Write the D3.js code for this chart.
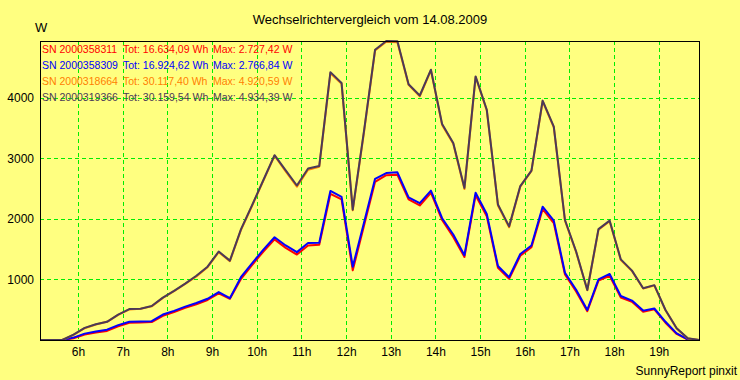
<!DOCTYPE html>
<html lang="de">
<head>
<meta charset="UTF-8">
<title>Wechselrichtervergleich</title>
<script src="https://d3js.org/d3.v7.min.js"></script>
<style>
    body { margin: 0; background: #ffff80; }
    svg { display: block; font-family: "Liberation Sans", Arial, sans-serif; }
</style>
</head>
<body>
<svg id="chart" width="740" height="380"></svg>
<script>
const times = ["05:09","05:24","05:39","05:54","06:09","06:24","06:39","06:54","07:09","07:24",
    "07:39","07:54","08:09","08:24","08:39","08:54","09:09","09:24","09:39","09:54",
    "10:09","10:24","10:39","10:54","11:09","11:24","11:39","11:54","12:09","12:24",
    "12:39","12:54","13:09","13:24","13:39","13:54","14:09","14:24","14:39","14:54",
    "15:09","15:24","15:39","15:54","16:09","16:24","16:39","16:54","17:09","17:24",
    "17:39","17:54","18:09","18:24","18:39","18:54","19:09","19:24","19:39","19:54"];

const sn311 = [0,0,0,30,90,125,150,225,285,290, 295,400,460,530,590,660,770,680,1010,1240,
    1460,1660,1520,1410,1560,1570,2410,2320,1150,1880, 2610,2720,2727,2320,2220,2430,1980,1700,1370,2390,
    2040,1190,1010,1390,1530,2160,1930,1080,800,475, 980,1060,700,630,465,505,285,100,5,0];
const sn309 = [0,0,0,40,105,140,170,245,300,305, 310,420,480,550,610,680,790,690,1040,1270,
    1490,1695,1560,1450,1600,1605,2460,2360,1210,1930, 2660,2755,2767,2355,2260,2465,2010,1740,1400,2430,
    2080,1220,1035,1420,1560,2200,1970,1110,830,495, 1000,1090,726,650,485,520,300,110,10,0];
const sn664 = [0,0,0,85,195,255,300,415,505,515, 555,695,805,925,1050,1200,1450,1300,1820,2220,
    2630,3040,2780,2530,2810,2860,4400,4230,2140,3420, 4780,4921,4915,4210,4020,4450,3550,3240,2490,4340,
    3790,2220,1860,2530,2790,3940,3510,1970,1450,820, 1820,1960,1320,1140,850,900,490,190,25,0];
const sn366 = [0,0,0,90,200,260,300,420,510,515, 560,700,810,930,1060,1210,1460,1310,1830,2230,
    2640,3050,2800,2550,2830,2870,4420,4240,2150,3440, 4790,4934,4930,4220,4035,4460,3565,3250,2510,4350,
    3800,2235,1875,2540,2795,3950,3520,1980,1460,825, 1830,1970,1330,1145,855,905,495,195,30,0];

const names = ["SN 2000358311", "SN 2000358309", "SN 2000318664", "SN 2000319366"];
const totals = ["Tot: 16.634,09 Wh", "Tot: 16.924,62 Wh", "Tot: 30.117,40 Wh", "Tot: 30.159,54 Wh"];
const maxima = ["Max: 2.727,42 W", "Max: 2.766,84 W", "Max: 4.920,59 W", "Max: 4.934,39 W"];
const colors = ["#ff0000", "#0000ff", "#ff8000", "#4b3a58"];
const seriesValues = [sn311, sn309, sn664, sn366];

const hourTicks = [6,7,8,9,10,11,12,13,14,15,16,17,18,19];
const powerTicks = [1000,2000,3000,4000];

const plotLeft = 40, plotRight = 699, plotTop = 41, plotBottom = 340;
const svg = d3.select("#chart");

const toHours = s => { const p = s.split(":"); return +p[0] + p[1] / 60; };
const hours = times.map(toHours);

const x = d3.scaleLinear().domain(d3.extent(hours)).range([plotLeft, plotRight]);
const y = d3.scaleLinear().domain([0, d3.max(sn366)]).range([plotBottom, plotTop]);

svg.append("rect").attr("width", 740).attr("height", 380).attr("fill", "#ffff80");

// grid
const grid = svg.append("g").attr("stroke", "#00ee00").attr("stroke-dasharray", "4,3")
    .attr("shape-rendering", "crispEdges");
grid.selectAll(".vx").data(hourTicks).join("line")
    .attr("x1", d => Math.round(x(d)) + 0.5).attr("x2", d => Math.round(x(d)) + 0.5)
    .attr("y1", plotTop).attr("y2", plotBottom);
grid.selectAll(".hy").data(powerTicks).join("line")
    .attr("x1", plotLeft).attr("x2", plotRight)
    .attr("y1", d => Math.round(y(d)) + 0.5).attr("y2", d => Math.round(y(d)) + 0.5);

// axes
const xAxis = svg.append("g").attr("transform", `translate(0,${plotBottom + 4})`)
    .call(d3.axisBottom(x).tickValues(hourTicks).tickSize(0).tickFormat(d => d + "h"));
xAxis.select(".domain").remove();
xAxis.selectAll("text").attr("font-size", 12).attr("fill", "#000").attr("font-family", "Liberation Sans, Arial, sans-serif");

const yAxis = svg.append("g").attr("transform", `translate(${plotLeft - 3},0)`)
    .call(d3.axisLeft(y).tickValues(powerTicks).tickSize(0).tickFormat(d => d));
yAxis.select(".domain").remove();
yAxis.selectAll("text").attr("font-size", 12).attr("fill", "#000").attr("font-family", "Liberation Sans, Arial, sans-serif");

// lines
const line = d3.line().x((d, i) => x(hours[i])).y(d => y(d));
seriesValues.forEach((vals, i) => {
    svg.append("path").datum(vals)
        .attr("fill", "none")
        .attr("stroke", colors[i])
        .attr("stroke-width", 2)
        .attr("stroke-linejoin", "round")
        .attr("d", line);
});

// frame
svg.append("rect").attr("x", plotLeft + 0.5).attr("y", plotTop + 0.5)
    .attr("width", plotRight - plotLeft).attr("height", plotBottom - plotTop)
    .attr("fill", "none").attr("stroke", "#000").attr("shape-rendering", "crispEdges");

// legend
const legend = svg.append("g").attr("font-size", 10.5);
names.forEach((n, i) => {
    const row = legend.append("g").attr("fill", colors[i]);
    const ly = 53 + i * 16;
    row.append("text").attr("x", 42).attr("y", ly).text(n);
    row.append("text").attr("x", 123).attr("y", ly).text(totals[i]);
    row.append("text").attr("x", 213).attr("y", ly).text(maxima[i]);
});

// titles
svg.append("text").attr("x", 370).attr("y", 24).attr("text-anchor", "middle")
    .attr("font-size", 13).text("Wechselrichtervergleich vom 14.08.2009");
svg.append("text").attr("x", 35).attr("y", 32).attr("font-size", 13).text("W");
svg.append("text").attr("x", 737).attr("y", 375).attr("text-anchor", "end")
    .attr("font-size", 12).text("SunnyReport pinxit");
</script>
</body>
</html>
